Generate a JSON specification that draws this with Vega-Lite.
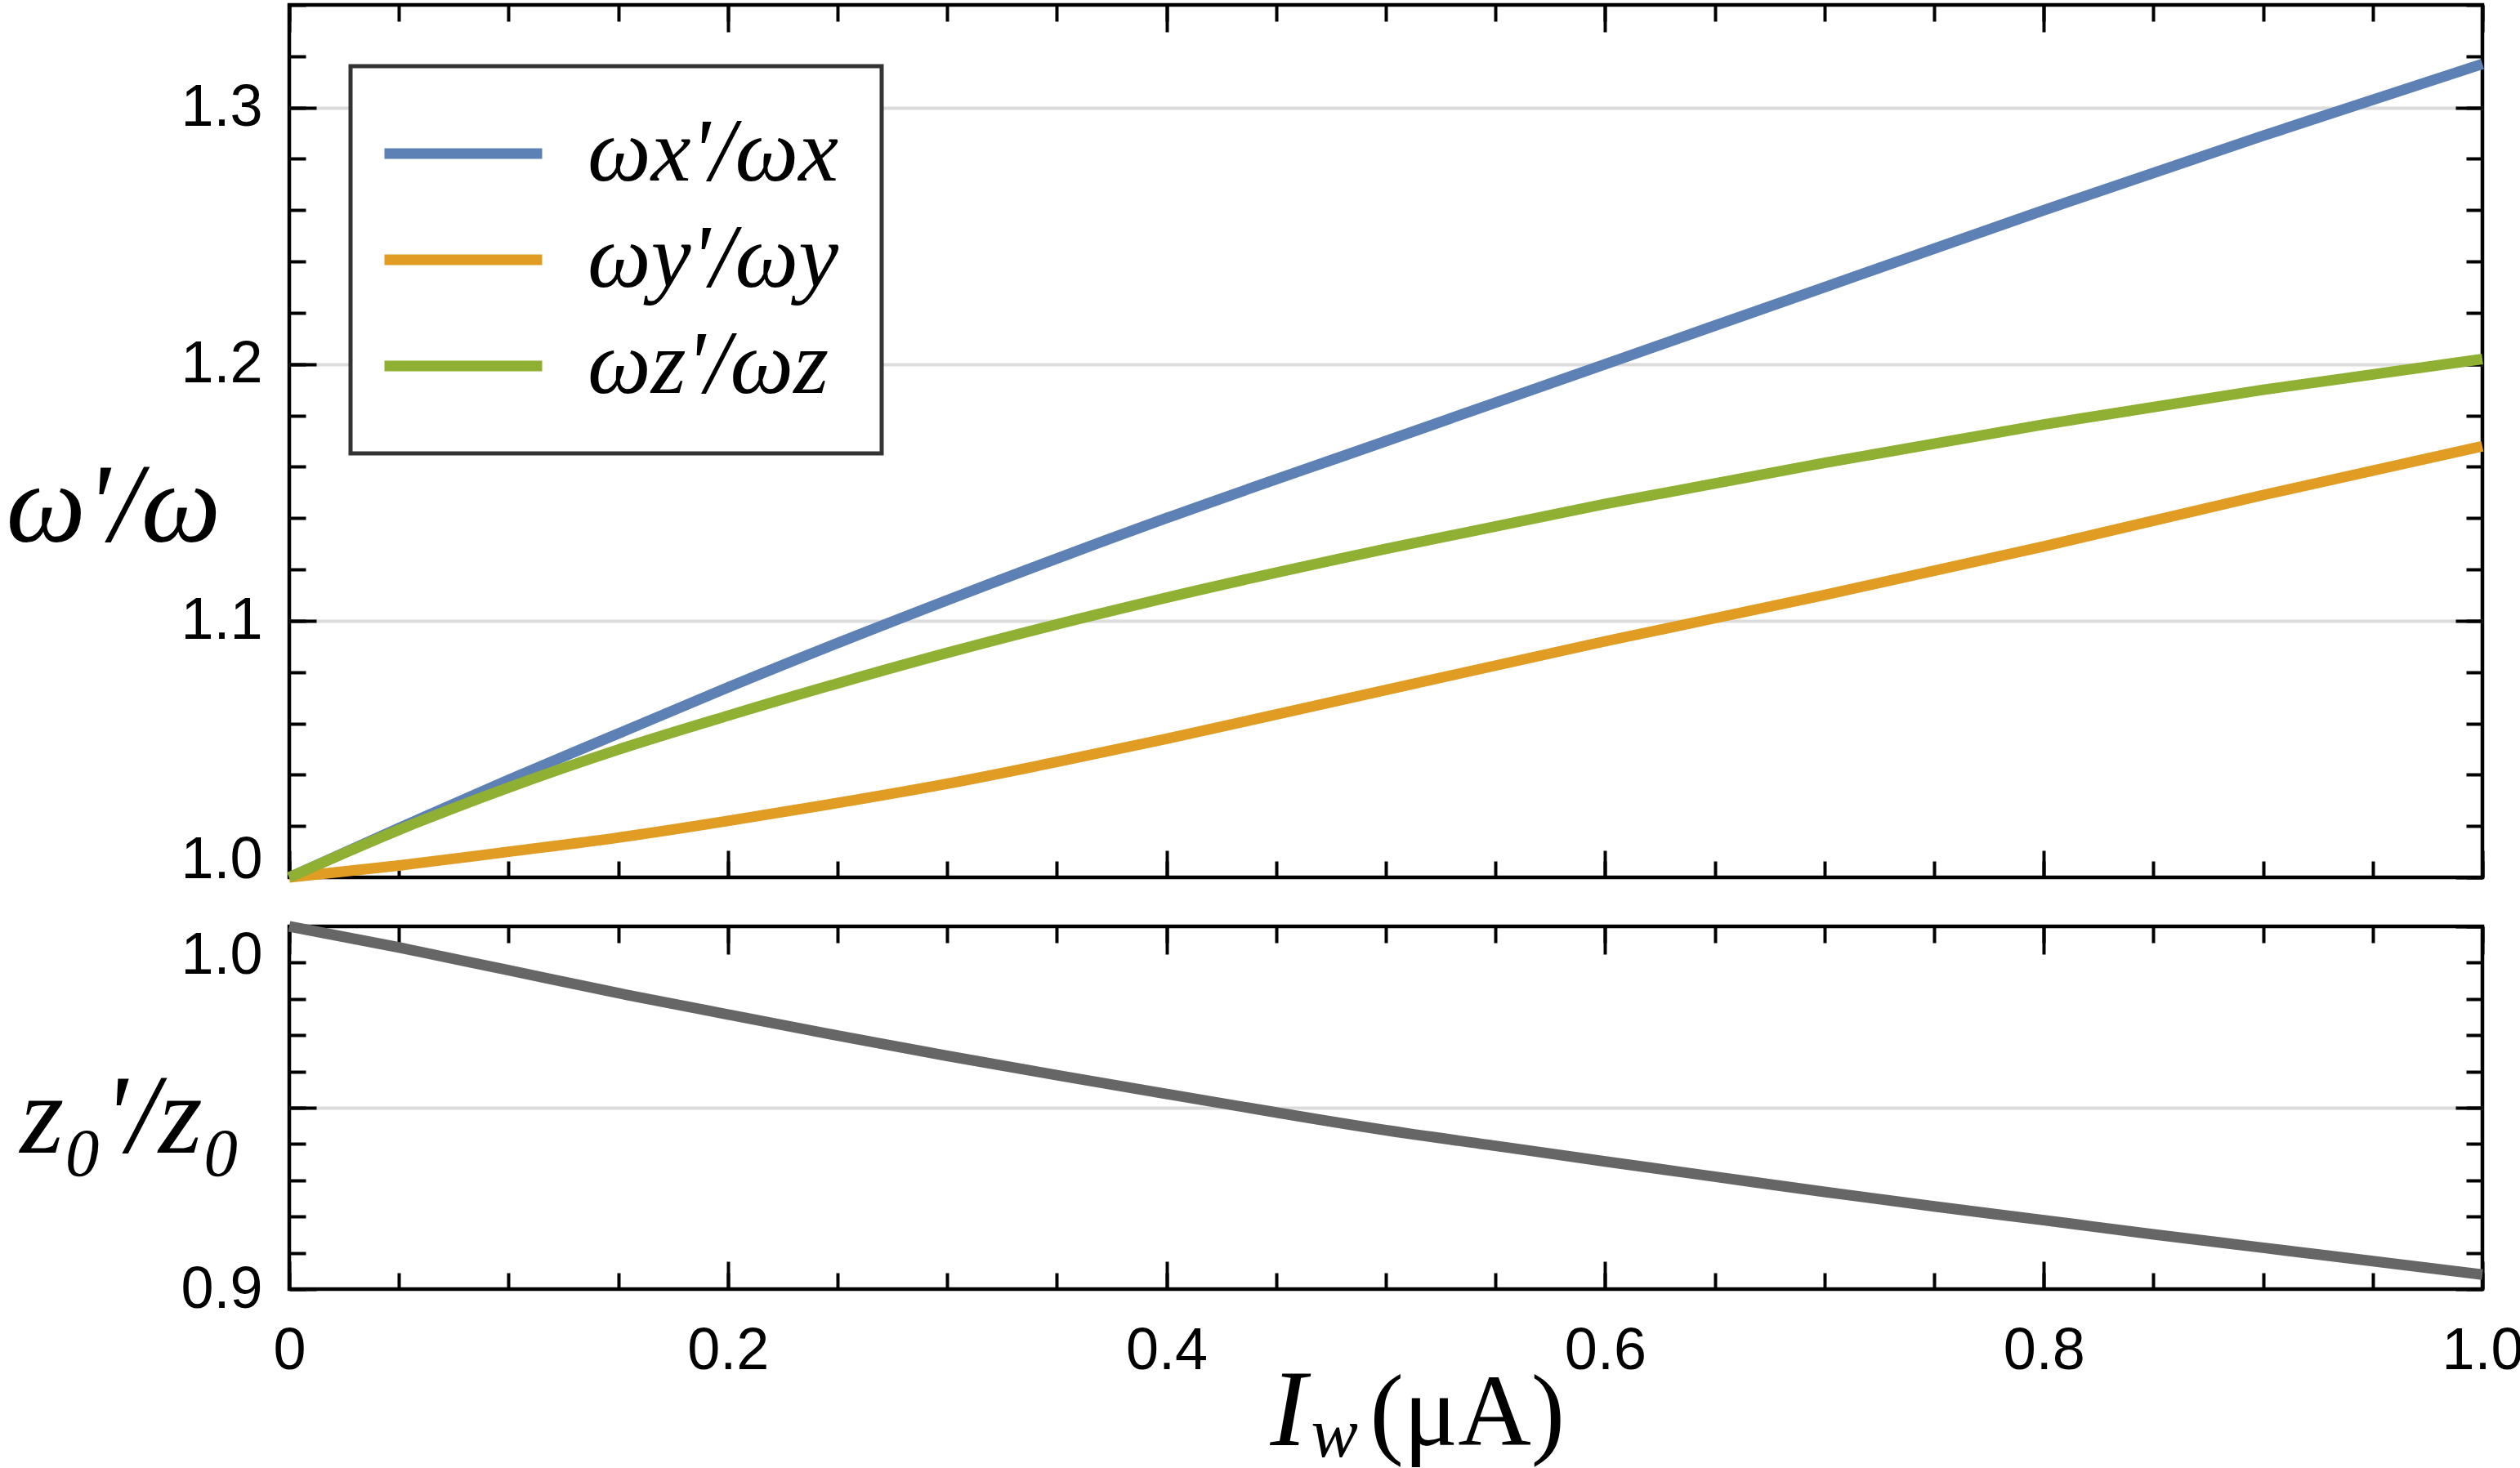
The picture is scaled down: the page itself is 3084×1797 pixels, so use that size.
{
  "$schema": "https://vega.github.io/schema/vega-lite/v6.json",
  "description": "Trap frequency ratios and trap height ratio against wire current",
  "background": "white",
  "padding": {"left": 4, "top": 1, "right": 0, "bottom": 0},
  "spacing": 60,
  "bounds": "flush",
  "datasets": {
    "freq": [
      {"I": 0, "series": "ωx'/ωx", "ratio": 1.0},
      {"I": 0.05, "series": "ωx'/ωx", "ratio": 1.0192},
      {"I": 0.1, "series": "ωx'/ωx", "ratio": 1.038},
      {"I": 0.15, "series": "ωx'/ωx", "ratio": 1.056},
      {"I": 0.2, "series": "ωx'/ωx", "ratio": 1.074},
      {"I": 0.3, "series": "ωx'/ωx", "ratio": 1.108},
      {"I": 0.4, "series": "ωx'/ωx", "ratio": 1.14},
      {"I": 0.5, "series": "ωx'/ωx", "ratio": 1.17},
      {"I": 0.6, "series": "ωx'/ωx", "ratio": 1.2},
      {"I": 0.7, "series": "ωx'/ωx", "ratio": 1.23},
      {"I": 0.8, "series": "ωx'/ωx", "ratio": 1.26},
      {"I": 0.9, "series": "ωx'/ωx", "ratio": 1.289},
      {"I": 1.0, "series": "ωx'/ωx", "ratio": 1.317},
      {"I": 0, "series": "ωy'/ωy", "ratio": 1.0},
      {"I": 0.05, "series": "ωy'/ωy", "ratio": 1.0046},
      {"I": 0.1, "series": "ωy'/ωy", "ratio": 1.01},
      {"I": 0.15, "series": "ωy'/ωy", "ratio": 1.0155},
      {"I": 0.2, "series": "ωy'/ωy", "ratio": 1.022},
      {"I": 0.25, "series": "ωy'/ωy", "ratio": 1.029},
      {"I": 0.3, "series": "ωy'/ωy", "ratio": 1.0365},
      {"I": 0.35, "series": "ωy'/ωy", "ratio": 1.045},
      {"I": 0.4, "series": "ωy'/ωy", "ratio": 1.054},
      {"I": 0.45, "series": "ωy'/ωy", "ratio": 1.0635},
      {"I": 0.5, "series": "ωy'/ωy", "ratio": 1.073},
      {"I": 0.6, "series": "ωy'/ωy", "ratio": 1.092},
      {"I": 0.7, "series": "ωy'/ωy", "ratio": 1.11},
      {"I": 0.8, "series": "ωy'/ωy", "ratio": 1.129},
      {"I": 0.9, "series": "ωy'/ωy", "ratio": 1.149},
      {"I": 1.0, "series": "ωy'/ωy", "ratio": 1.168},
      {"I": 0, "series": "ωz'/ωz", "ratio": 1.0},
      {"I": 0.05, "series": "ωz'/ωz", "ratio": 1.0185},
      {"I": 0.1, "series": "ωz'/ωz", "ratio": 1.035},
      {"I": 0.15, "series": "ωz'/ωz", "ratio": 1.0498},
      {"I": 0.2, "series": "ωz'/ωz", "ratio": 1.063},
      {"I": 0.3, "series": "ωz'/ωz", "ratio": 1.0875},
      {"I": 0.4, "series": "ωz'/ωz", "ratio": 1.109},
      {"I": 0.5, "series": "ωz'/ωz", "ratio": 1.128},
      {"I": 0.6, "series": "ωz'/ωz", "ratio": 1.1455},
      {"I": 0.7, "series": "ωz'/ωz", "ratio": 1.1615},
      {"I": 0.8, "series": "ωz'/ωz", "ratio": 1.1765},
      {"I": 0.9, "series": "ωz'/ωz", "ratio": 1.19},
      {"I": 1.0, "series": "ωz'/ωz", "ratio": 1.202}
    ],
    "z0": [
      {"I": 0, "ratio": 1.0},
      {"I": 0.05, "ratio": 0.9942},
      {"I": 0.1, "ratio": 0.9879},
      {"I": 0.15, "ratio": 0.9816},
      {"I": 0.2, "ratio": 0.9757},
      {"I": 0.25, "ratio": 0.9699},
      {"I": 0.3, "ratio": 0.9643},
      {"I": 0.35, "ratio": 0.959},
      {"I": 0.4, "ratio": 0.9538},
      {"I": 0.45, "ratio": 0.9487},
      {"I": 0.5, "ratio": 0.9438},
      {"I": 0.55, "ratio": 0.9395},
      {"I": 0.6, "ratio": 0.9352},
      {"I": 0.65, "ratio": 0.931},
      {"I": 0.7, "ratio": 0.9268},
      {"I": 0.75, "ratio": 0.9228},
      {"I": 0.8, "ratio": 0.919},
      {"I": 0.85, "ratio": 0.9151},
      {"I": 0.9, "ratio": 0.9114},
      {"I": 0.95, "ratio": 0.9077},
      {"I": 1.0, "ratio": 0.904}
    ]
  },
  "vconcat": [
    {
      "width": 2684,
      "height": 1068,
      "data": {"name": "freq"},
      "layer": [
        {
          "mark": {"type": "line"},
          "encoding": {
            "x": {
              "field": "I", "type": "quantitative",
              "scale": {"domain": [0, 1], "nice": false, "zero": false},
              "axis": {"orient": "bottom", "values": [0, 0.2, 0.4, 0.6, 0.8, 1], "tickSize": -33, "labels": false, "title": null}
            },
            "y": {
              "field": "ratio", "type": "quantitative",
              "scale": {"domain": [1, 1.34], "nice": false, "zero": false},
              "axis": {
                "orient": "left", "values": [1, 1.1, 1.2, 1.3], "tickSize": -33, "labelPadding": 66, "format": ".1f",
                "labelBaseline": {"condition": {"test": "datum.value < 1.05", "value": "alphabetic"}, "value": "middle"},
                "grid": true, "gridColor": "#dcdcdc", "gridWidth": 4,
                "gridOpacity": {"condition": {"test": "datum.value < 1.05", "value": 0}, "value": 1},
                "title": "ω'/ω", "titleFontStyle": "italic", "titleFontSize": 138, "titleAngle": 0,
                "titleAlign": "left", "titleBaseline": "alphabetic", "titleX": -347, "titleY": 656
              }
            },
            "color": {
              "field": "series", "type": "nominal",
              "scale": {"domain": ["ωx'/ωx", "ωy'/ωy", "ωz'/ωz"], "range": ["#5E81B5", "#E19C24", "#8FB032"]},
              "legend": {
                "title": null, "orient": "top-left", "offset": 75,
                "symbolType": "M-19.3,0H19.3", "symbolSize": 100, "symbolStrokeWidth": 13,
                "symbolOffset": 31, "labelOffset": 97,
                "labelFont": "Liberation Serif", "labelFontStyle": "italic", "labelFontSize": 110,
                "labelColor": "black", "labelLimit": 2000,
                "rowPadding": 20, "padding": 52,
                "strokeColor": "#333333", "fillColor": "white"
              }
            }
          }
        },
        {
          "mark": {"type": "line", "strokeOpacity": 0},
          "encoding": {
            "x": {"field": "I", "type": "quantitative",
              "axis": {"orient": "bottom", "values": [0, 0.05, 0.1, 0.15, 0.2, 0.25, 0.3, 0.35, 0.4, 0.45, 0.5, 0.55, 0.6, 0.65, 0.7, 0.75, 0.8, 0.85, 0.9, 0.95, 1], "tickSize": -20, "labels": false, "title": null}},
            "y": {"field": "ratio", "type": "quantitative",
              "axis": {"orient": "left", "values": [1, 1.02, 1.04, 1.06, 1.08, 1.1, 1.12, 1.14, 1.16, 1.18, 1.2, 1.22, 1.24, 1.26, 1.28, 1.3, 1.32, 1.34], "tickSize": -20, "labels": false, "title": null}},
            "detail": {"field": "series"}
          }
        },
        {
          "mark": {"type": "line", "strokeOpacity": 0},
          "encoding": {
            "x": {"field": "I", "type": "quantitative",
              "axis": {"orient": "top", "values": [0, 0.2, 0.4, 0.6, 0.8, 1], "tickSize": -33, "labels": false, "title": null}},
            "y": {"field": "ratio", "type": "quantitative",
              "axis": {"orient": "right", "values": [1, 1.1, 1.2, 1.3], "tickSize": -33, "labels": false, "title": null}},
            "detail": {"field": "series"}
          }
        },
        {
          "mark": {"type": "line", "strokeOpacity": 0},
          "encoding": {
            "x": {"field": "I", "type": "quantitative",
              "axis": {"orient": "top", "values": [0, 0.05, 0.1, 0.15, 0.2, 0.25, 0.3, 0.35, 0.4, 0.45, 0.5, 0.55, 0.6, 0.65, 0.7, 0.75, 0.8, 0.85, 0.9, 0.95, 1], "tickSize": -20, "labels": false, "title": null}},
            "y": {"field": "ratio", "type": "quantitative",
              "axis": {"orient": "right", "values": [1, 1.02, 1.04, 1.06, 1.08, 1.1, 1.12, 1.14, 1.16, 1.18, 1.2, 1.22, 1.24, 1.26, 1.28, 1.3, 1.32, 1.34], "tickSize": -20, "labels": false, "title": null}},
            "detail": {"field": "series"}
          }
        }
      ],
      "resolve": {"axis": {"x": "independent", "y": "independent"}}
    },
    {
      "width": 2684,
      "height": 444,
      "data": {"name": "z0"},
      "layer": [
        {
          "mark": {"type": "line", "color": "#666666"},
          "encoding": {
            "x": {
              "field": "I", "type": "quantitative",
              "scale": {"domain": [0, 1], "nice": false, "zero": false},
              "axis": {
                "orient": "bottom", "values": [0, 0.2, 0.4, 0.6, 0.8, 1], "tickSize": -34, "labelPadding": 74,
                "labelExpr": "datum.value == 0 ? '0' : format(datum.value, '.1f')",
                "title": "I", "titleFontStyle": "italic", "titleFontSize": 134,
                "titleAlign": "left", "titleBaseline": "alphabetic", "titleX": 1200, "titleY": 190
              }
            },
            "y": {
              "field": "ratio", "type": "quantitative",
              "scale": {"domain": [0.9, 1.0], "nice": false, "zero": false},
              "axis": {
                "orient": "left", "values": [0.9, 0.95, 1.0], "tickSize": -33, "labelPadding": 66,
                "labelExpr": "abs(datum.value - 0.95) < 0.001 ? '' : format(datum.value, '.1f')",
                "labelBaseline": {"condition": {"test": "datum.value > 0.99", "value": "top"}, "value": "middle"},
                "grid": true, "gridColor": "#dcdcdc", "gridWidth": 4,
                "gridOpacity": {"condition": {"test": "abs(datum.value - 0.95) < 0.001", "value": 1}, "value": 0},
                "title": "z₀'/z₀", "titleFontStyle": "italic", "titleFontSize": 138, "titleAngle": 0,
                "titleAlign": "left", "titleBaseline": "alphabetic", "titleX": -330, "titleY": 276
              }
            }
          }
        },
        {
          "mark": {"type": "line", "strokeOpacity": 0},
          "encoding": {
            "x": {"field": "I", "type": "quantitative",
              "axis": {"orient": "bottom", "values": [0, 0.05, 0.1, 0.15, 0.2, 0.25, 0.3, 0.35, 0.4, 0.45, 0.5, 0.55, 0.6, 0.65, 0.7, 0.75, 0.8, 0.85, 0.9, 0.95, 1], "tickSize": -20, "labels": false,
                "title": "w", "titleFontStyle": "italic", "titleFontSize": 86,
                "titleAlign": "left", "titleBaseline": "alphabetic", "titleX": 1250, "titleY": 204}},
            "y": {"field": "ratio", "type": "quantitative",
              "axis": {"orient": "left", "values": [0.9, 0.91, 0.92, 0.93, 0.94, 0.95, 0.96, 0.97, 0.98, 0.99, 1.0], "tickSize": -20, "labels": false, "title": null}}
          }
        },
        {
          "mark": {"type": "line", "strokeOpacity": 0},
          "encoding": {
            "x": {"field": "I", "type": "quantitative",
              "axis": {"orient": "top", "values": [0, 0.2, 0.4, 0.6, 0.8, 1], "tickSize": -34, "labels": false,
                "title": "(μA)", "titleFontSize": 124,
                "titleAlign": "left", "titleBaseline": "alphabetic", "titleX": 1322, "titleY": 634}},
            "y": {"field": "ratio", "type": "quantitative",
              "axis": {"orient": "right", "values": [0.9, 0.95, 1.0], "tickSize": -33, "labels": false, "title": null}}
          }
        },
        {
          "mark": {"type": "line", "strokeOpacity": 0},
          "encoding": {
            "x": {"field": "I", "type": "quantitative",
              "axis": {"orient": "top", "values": [0, 0.05, 0.1, 0.15, 0.2, 0.25, 0.3, 0.35, 0.4, 0.45, 0.5, 0.55, 0.6, 0.65, 0.7, 0.75, 0.8, 0.85, 0.9, 0.95, 1], "tickSize": -20, "labels": false, "title": null}},
            "y": {"field": "ratio", "type": "quantitative",
              "axis": {"orient": "right", "values": [0.9, 0.91, 0.92, 0.93, 0.94, 0.95, 0.96, 0.97, 0.98, 0.99, 1.0], "tickSize": -20, "labels": false, "title": null}}
          }
        }
      ],
      "resolve": {"axis": {"x": "independent", "y": "independent"}}
    }
  ],
  "config": {
    "view": {"stroke": "black", "strokeWidth": 4.5},
    "legend": {"strokeWidth": 5},
    "axis": {
      "domain": false, "grid": false, "ticks": true, "tickColor": "black", "tickWidth": 4,
      "labelFont": "Liberation Sans", "labelFontSize": 72, "labelColor": "black",
      "labelOverlap": false, "labelFlush": false, "labelBound": false,
      "titleColor": "black", "titleFont": "Liberation Serif", "titleFontWeight": "normal"
    },
    "line": {"strokeWidth": 13, "interpolate": "monotone", "strokeCap": "butt"}
  }
}
